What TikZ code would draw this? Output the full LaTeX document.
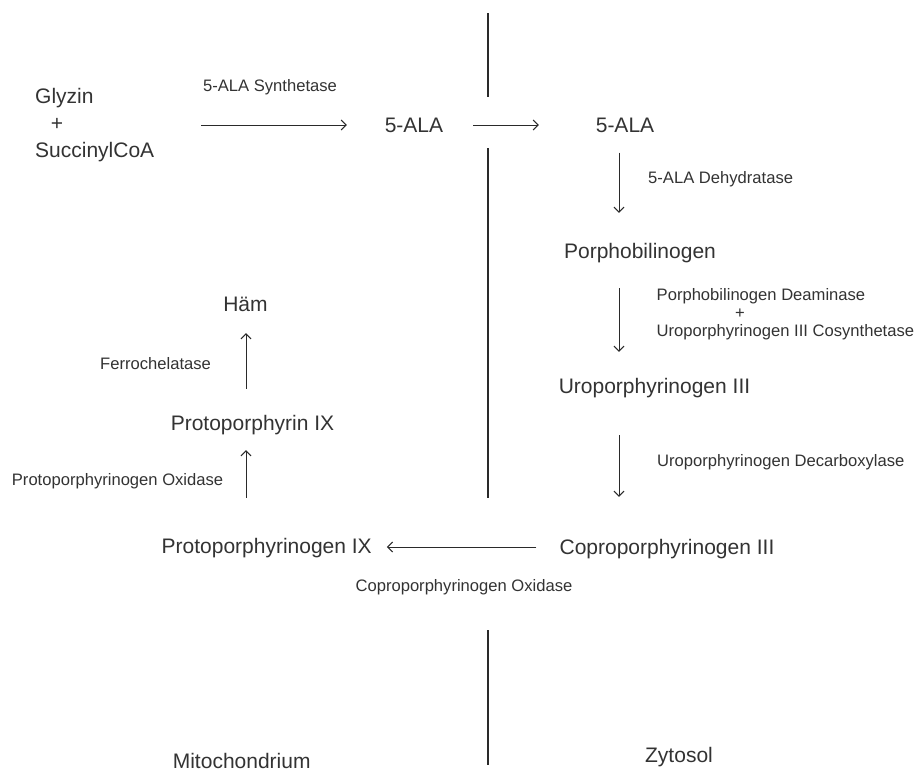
\documentclass[tikz,border=0pt]{standalone}
\usepackage{fontspec}
\setmainfont{Liberation Sans}
\usetikzlibrary{arrows.meta}
\definecolor{txt}{HTML}{333333}
\definecolor{ln}{HTML}{2A2A2A}
\tikzset{
  main/.style={font=\fontsize{21}{25}\selectfont, text=txt, inner sep=0pt, text height=15pt, text depth=0pt},
  small/.style={font=\fontsize{16.6}{20}\selectfont, text=txt, inner sep=0pt, text height=11.9pt, text depth=0pt},
  arr/.style={draw=ln, line width=1pt, -{Straight Barb[length=5pt,width=10pt,line width=1pt]}},
  divider/.style={draw=ln, line width=1.3pt}
}
\begin{document}
\begin{tikzpicture}[x=1pt,y=-1pt]
\useasboundingbox (0,0) rectangle (915,774);
\fill[white] (0,0) rectangle (915,774);

% compartment divider
\draw[divider] (488,13) -- (488,97);
\draw[divider] (488,148) -- (488,498);
\draw[divider] (488,630) -- (488,765);

% metabolites
\node[main, anchor=west] (glyzin) at (35,96) {Glyzin};
\node[main] (plus) at (57,123) {+};
\node[main, anchor=west] (succ) at (35,149.5) {SuccinylCoA};
\node[main] (ala1) at (414,125) {5-ALA};
\node[main] (ala2) at (625,125) {5-ALA};
\node[main] (pbg) at (640,250.5) {Porphobilinogen};
\node[main] (uro) at (654.5,386) {Uroporphyrinogen III};
\node[main] (copro) at (667,547) {Coproporphyrinogen III};
\node[main] (protogen) at (266.7,546) {Protoporphyrinogen IX};
\node[main] (protoix) at (252.5,423) {Protoporphyrin IX};
\node[main] (haem) at (245.5,304) {Häm};
\node[main] (mito) at (241.7,761) {Mitochondrium};
\node[main] (zyto) at (679,755) {Zytosol};

% enzymes
\node[small] (syn) at (270,86) {5-ALA Synthetase};
\node[small, anchor=west] (dehyd) at (648,178) {5-ALA Dehydratase};
\node[small, anchor=west] (deam) at (656.5,295) {Porphobilinogen Deaminase};
\node[small] (plus2) at (740,313) {+};
\node[small, anchor=west] (cosyn) at (656.5,331) {Uroporphyrinogen III Cosynthetase};
\node[small, anchor=west] (decarb) at (657,461) {Uroporphyrinogen Decarboxylase};
\node[small] (coxid) at (464,586) {Coproporphyrinogen Oxidase};
\node[small, anchor=west] (poxid) at (11.7,480) {Protoporphyrinogen Oxidase};
\node[small, anchor=west] (ferro) at (100,364) {Ferrochelatase};

% arrow columns
\coordinate (rcol) at (619,0);
\coordinate (lcol) at (246,0);

% reactions
\draw[arr, shorten <=47pt, shorten >=37.8pt] (succ.east |- ala1) -- (ala1.west);
\draw[arr, shorten <=29.8pt, shorten >=56.8pt] (ala1.east) -- (ala2.west);
\draw[arr, shorten <=20pt, shorten >=30pt] (ala2.south -| rcol) -- (pbg.north -| rcol);
\draw[arr, shorten <=30pt, shorten >=26.5pt] (pbg.south -| rcol) -- (uro.north -| rcol);
\draw[arr, shorten <=41.5pt, shorten >=42.5pt] (uro.south -| rcol) -- (copro.north -| rcol);
\draw[arr, shorten <=23pt, shorten >=15pt] (copro.west) -- (protogen.east |- copro.west);
\draw[arr, shorten <=40.5pt, shorten >=19.5pt] (protogen.north -| lcol) -- (protoix.south -| lcol);
\draw[arr, shorten <=26.5pt, shorten >=21.5pt] (protoix.north -| lcol) -- (haem.south -| lcol);
\end{tikzpicture}
\end{document}
